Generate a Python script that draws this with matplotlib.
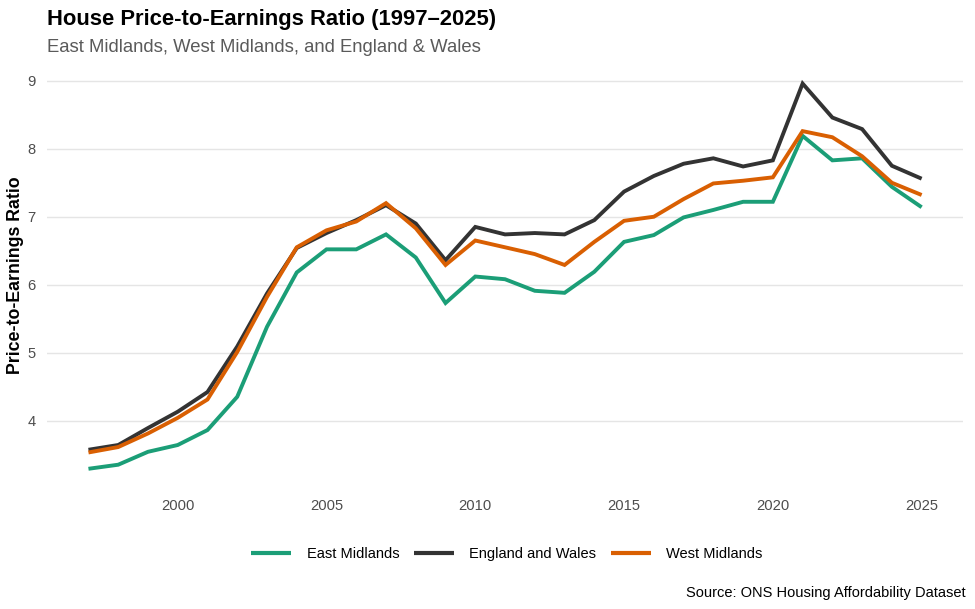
import matplotlib.pyplot as plt

plt.rcParams["font.family"] = ["Liberation Sans", "DejaVu Sans"]

years = list(range(1997, 2026))

east_midlands = [3.29, 3.35, 3.54, 3.64, 3.86, 4.35, 5.38, 6.18, 6.52, 6.52,
                 6.74, 6.40, 5.73, 6.12, 6.08, 5.91, 5.88, 6.19, 6.63, 6.73,
                 6.99, 7.10, 7.22, 7.22, 8.19, 7.83, 7.86, 7.44, 7.14]
england_wales = [3.57, 3.64, 3.89, 4.13, 4.42, 5.09, 5.87, 6.54, 6.76, 6.95,
                 7.17, 6.90, 6.36, 6.85, 6.74, 6.76, 6.74, 6.95, 7.37, 7.60,
                 7.78, 7.86, 7.74, 7.83, 8.96, 8.46, 8.29, 7.75, 7.56]
west_midlands = [3.53, 3.61, 3.81, 4.04, 4.31, 5.01, 5.82, 6.55, 6.80, 6.93,
                 7.20, 6.83, 6.29, 6.65, 6.55, 6.45, 6.29, 6.63, 6.94, 7.00,
                 7.26, 7.49, 7.53, 7.58, 8.26, 8.17, 7.89, 7.50, 7.32]

series = [
    ("East Midlands", east_midlands, "#1b9e77"),
    ("England and Wales", england_wales, "#333333"),
    ("West Midlands", west_midlands, "#d95f02"),
]

fig = plt.figure(figsize=(9.75, 6.09), dpi=100)
ax = fig.add_axes([0.048, 0.199, 0.940, 0.695])

for name, vals, col in series:
    ax.plot(years, vals, color=col, linewidth=2.8, label=name,
            solid_joinstyle="miter", solid_capstyle="butt")

ax.set_xlim(1995.6, 2026.4)
ax.set_ylim(3.01, 9.24)
ax.set_xticks([2000, 2005, 2010, 2015, 2020, 2025])
ax.set_yticks([4, 5, 6, 7, 8, 9])
ax.grid(axis="y", color="#e5e5e5", linewidth=1.0)
ax.grid(axis="x", visible=False)
ax.set_axisbelow(True)
for s in ax.spines.values():
    s.set_visible(False)
ax.tick_params(length=0, labelsize=10.6, labelcolor="#4d4d4d", pad=8)

fig.text(0.016, 0.548, "Price-to-Earnings Ratio", rotation=90, fontsize=12.8,
         fontweight="bold", ha="center", va="center")

fig.text(0.048, 0.968, "House Price-to-Earnings Ratio (1997\u20132025)",
         fontsize=15.8, fontweight="bold", ha="left", va="center")
fig.text(0.048, 0.922, "East Midlands, West Midlands, and England & Wales",
         fontsize=13.3, color="#5a5a5a", ha="left", va="center")

leg = fig.legend(loc="center", bbox_to_anchor=(0.52, 0.090), ncol=3,
                 frameon=False, fontsize=10.5, handlelength=2.75,
                 handletextpad=1.05, columnspacing=1.0)
for line in leg.get_lines():
    line.set_linewidth(3)

fig.text(0.99, 0.027, "Source: ONS Housing Affordability Dataset",
         fontsize=10.5, ha="right", va="center")

fig.savefig("out.png", dpi=100, facecolor="white")
